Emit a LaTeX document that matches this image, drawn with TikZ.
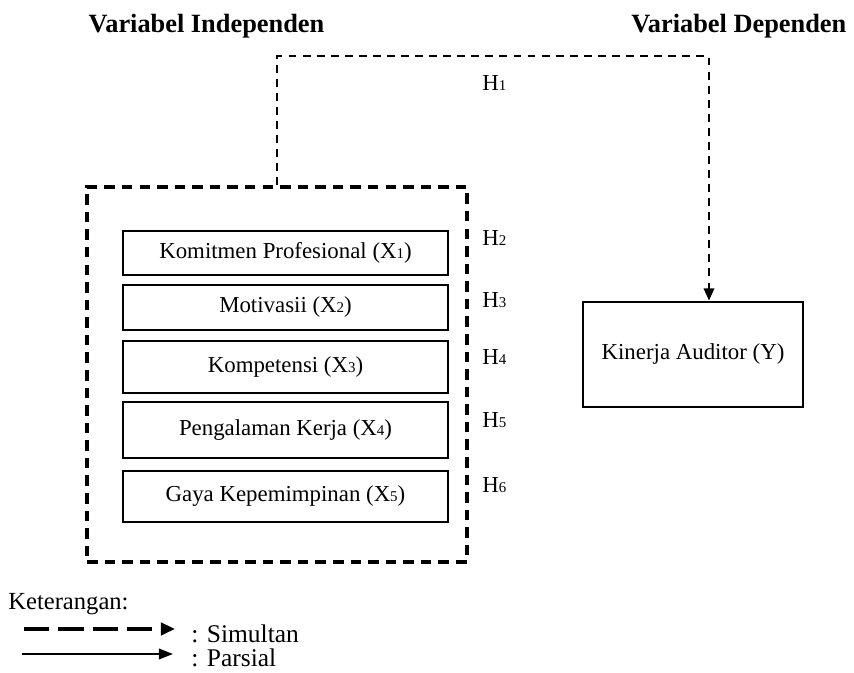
\documentclass[tikz,border=0pt]{standalone}
\usepackage{fontspec}
\setmainfont{Liberation Serif}
\usetikzlibrary{arrows.meta}
\newcommand{\sbs}[1]{{\fontsize{8.5}{9}\selectfont #1}}
\begin{document}
\begin{tikzpicture}[every node/.style={font=\fontsize{13}{15}\selectfont},
  var/.style={draw,line width=1.6pt,minimum width=6.5cm,align=center,inner sep=1pt},
  hyp/.style={anchor=west,inner sep=0pt},
  sim/.style={draw,line width=1.1pt,dash pattern=on 4.5pt off 3.5pt,-{Triangle[length=7pt,width=6pt]}}]
\useasboundingbox (0,0) rectangle (17.08,13.46);
\node[font=\fontsize{15}{17}\selectfont\bfseries] (tind) at (4.13,12.94) {Variabel Independen};
\node[font=\fontsize{15}{17}\selectfont\bfseries,anchor=east] (tdep) at (17.05,12.94) {Variabel Dependen};
% kotak variabel independen
\node[draw,line width=2pt,dash pattern=on 6pt off 4pt,minimum width=7.6cm,minimum height=7.5cm] (frame) at (5.54,5.97) {};
\node[var,minimum height=0.88cm] (x1) at (5.71,8.40) {Komitmen Profesional (X\sbs{1})};
\node[var,minimum height=0.90cm] (x2) at (5.71,7.31) {Motivasii (X\sbs{2})};
\node[var,minimum height=1.04cm] (x3) at (5.71,6.12) {Kompetensi (X\sbs{3})};
\node[var,minimum height=1.12cm] (x4) at (5.71,4.86) {Pengalaman Kerja (X\sbs{4})};
\node[var,minimum height=1.02cm] (x5) at (5.71,3.53) {Gaya Kepemimpinan (X\sbs{5})};
\node[var,minimum width=4.4cm,minimum height=2.1cm] (y) at (13.86,6.37) {Kinerja Auditor (Y)};
% hipotesis
\node[hyp] (h1) at (9.64,11.80) {H\sbs{1}};
\node[hyp] (h2) at (9.64,8.70) {H\sbs{2}};
\node[hyp] (h3) at (9.64,7.46) {H\sbs{3}};
\node[hyp] (h4) at (9.64,6.32) {H\sbs{4}};
\node[hyp] (h5) at (9.64,5.06) {H\sbs{5}};
\node[hyp] (h6) at (9.64,3.76) {H\sbs{6}};
\draw[sim] (frame.north) -- ++(0,2.58) -| ([xshift=0.32cm]y.north);
% keterangan
\node[anchor=west,inner sep=0pt,font=\fontsize{14}{16}\selectfont] (ket) at (0.16,1.38) {Keterangan:};
\coordinate (la) at (0.48,0.88); \coordinate (lb) at (3.50,0.88);
\coordinate (lc) at (0.44,0.38); \coordinate (ld) at (3.46,0.38);
\draw[line width=2.2pt,dash pattern=on 14.5pt off 5pt,-{Triangle[length=8pt,width=7pt]}] (la) -- (lb);
\draw[line width=1.1pt,-{Triangle[length=8pt,width=6pt]}] (lc) -- (ld);
\node[anchor=west,inner sep=0pt,font=\fontsize{14.5}{16}\selectfont] (lsim) at (3.82,0.78) {: Simultan};
\node[anchor=west,inner sep=0pt,font=\fontsize{14.5}{16}\selectfont] (lpar) at (3.82,0.30) {: Parsial};
\end{tikzpicture}
\end{document}
